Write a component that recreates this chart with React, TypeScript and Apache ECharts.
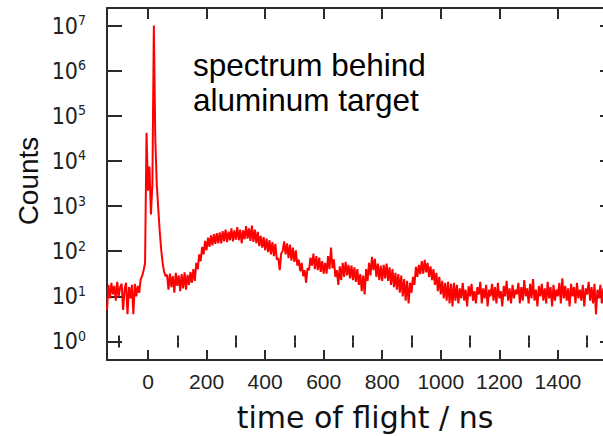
import React, { useEffect, useRef } from "react";
import * as echarts from "echarts";

// Time-of-flight histogram, 5 ns bins, counts per bin
const BIN_NS = 5;

// -140 .. -25 ns : random background before the prompt flash
const baselineStartNs = -140;
const baselineCounts = [5, 18, 9, 20, 11, 17, 8, 21, 10, 16, 19, 5, 14, 20, 4, 16, 9, 18, 4, 19, 10, 17, 12, 24];

// -20 .. 60 ns : prompt gamma flash and the main transmitted peak
const promptStartNs = -20;
const promptCounts = [28, 38, 55, 42000, 2200, 7500, 650, 3000, 1.0e7, 30000, 3000, 900, 280, 110, 55, 35, 28];

// 65 .. 150 ns : valley after the peak
const valleyStartNs = 65;
const valleyCounts = [30, 14, 32, 16, 28, 12, 33, 17, 29, 13, 31, 15, 34, 14, 30, 18, 35, 20];

// 155 .. 240 ns : rising edge of the broad component
const riseStartNs = 155;
const riseCounts = [40, 22, 55, 40, 85, 60, 125, 85, 170, 105, 200, 125, 225, 135, 240, 145, 250, 150];

// 245 .. 380 ns : maximum of the broad component
const humpStartNs = 245;
const humpCounts = [
  260, 150, 280, 165, 300, 160, 270, 175, 320, 165, 290, 180, 340, 175, 300, 150, 290, 185, 360, 190,
  320, 170, 370, 160, 300, 150, 270, 130,
];

// 385 .. 600 ns : decay with resonance dips
const decayStartNs = 385;
const decayCounts = [
  220, 120, 205, 105, 190, 95, 175, 85, 160, 78, 145, 65, 70, 38, 90, 100, 165, 85, 150, 70,
  140, 62, 120, 58, 105, 48, 65, 36, 55, 28, 38, 20, 42, 38, 72, 48, 88, 40, 78, 38,
  72, 35, 60, 32,
];

// 605 .. 760 ns
const midStartNs = 605;
const midCounts = [
  55, 32, 78, 40, 120, 42, 66, 27, 38, 18, 46, 23, 55, 27, 58, 29, 50, 25, 48, 23,
  44, 21, 40, 18, 31, 13, 29, 11, 40, 22, 55, 29,
];

// 765 .. 1050 ns : structures near 780 ns and 940 ns
const bumpsStartNs = 765;
const bumpsCounts = [
  75, 38, 68, 27, 53, 23, 48, 22, 50, 25, 53, 22, 44, 18, 40, 16, 33, 14, 31, 12,
  29, 10, 24, 8, 22, 7, 20, 12, 27, 18, 45, 27, 50, 31, 60, 32, 64, 34, 55, 27,
  46, 23, 40, 18, 33, 13, 27, 11, 22, 9, 20, 8, 21, 7, 19, 6, 20, 8,
];

// 1055 .. 1595 ns : flat tail
const tailStartNs = 1055;
const tailCounts = [
  18, 7, 15, 9, 20, 8, 14, 6, 17, 10,
  19, 8, 13, 7, 16, 11, 21, 7, 15, 9,
  18, 6, 14, 10, 19, 8, 16, 7, 20, 9,
  13, 6, 17, 10, 22, 8, 15, 7, 18, 9,
  14, 11, 20, 7, 16, 8, 23, 10, 15, 7,
  19, 9, 24, 8, 14, 6, 17, 10, 19, 8,
  15, 7, 21, 9, 16, 6, 18, 8, 14, 10,
  20, 7, 25, 9, 17, 8, 15, 6, 19, 10,
  16, 7, 20, 9, 14, 8, 18, 6, 15, 11,
  21, 8, 16, 7, 19, 4, 14, 9, 18, 7,
  15, 10, 20, 8, 17, 7, 16, 9, 14,
];

// Axis ticks
const xMajorTicks = [0, 200, 400, 600, 800, 1000, 1200, 1400];
const xMinorTicks = [-100, 100, 300, 500, 700, 900, 1100, 1300, 1500];
const yDecades = [0, 1, 2, 3, 4, 5, 6, 7];

const X_MIN = -140;
const X_MAX = 1595;
const Y_MIN = -0.41; // log10 of the lower frame edge
const Y_MAX = 7.388; // log10 of the upper frame edge

const segment = (startNs: number, counts: number[]) =>
  counts.map((c, i) => [startNs + i * BIN_NS, Math.log10(c)]);

const AXIS_COLOR = "#2a2a2a";
const tickLine = { color: AXIS_COLOR, width: 2 };
const NARROW = '"Liberation Sans Narrow", "DejaVu Sans Condensed", sans-serif';

export default function App() {
  const ref = useRef<HTMLDivElement>(null);

  useEffect(() => {
    if (!ref.current) return;
    const chart = echarts.init(ref.current, null, { renderer: "svg" });

    const data = [
      ...segment(baselineStartNs, baselineCounts),
      ...segment(promptStartNs, promptCounts),
      ...segment(valleyStartNs, valleyCounts),
      ...segment(riseStartNs, riseCounts),
      ...segment(humpStartNs, humpCounts),
      ...segment(decayStartNs, decayCounts),
      ...segment(midStartNs, midCounts),
      ...segment(bumpsStartNs, bumpsCounts),
      ...segment(tailStartNs, tailCounts),
    ];

    const xBase = (position: "top" | "bottom") => ({
      type: "value" as const,
      position,
      min: X_MIN,
      max: X_MAX,
      splitLine: { show: false },
    });

    chart.setOption({
      animation: false,
      backgroundColor: "#ffffff",
      grid: { left: 107, top: 8, right: 15, bottom: 76 },
      xAxis: [
        {
          ...xBase("bottom"),
          axisLine: { show: true, onZero: false, lineStyle: { color: AXIS_COLOR, width: 2 } },
          axisTick: { show: true, inside: true, length: 10, customValues: xMajorTicks, lineStyle: tickLine },
          axisLabel: {
            show: true,
            customValues: xMajorTicks,
            formatter: (v: number) => String(Math.round(v)),
            margin: 11,
            fontSize: 21,
            fontFamily: '"Liberation Sans", Arial, sans-serif',
            color: "#222",
          },
        },
        {
          ...xBase("bottom"),
          axisLine: { show: false },
          axisTick: { show: true, inside: true, length: 6, customValues: xMinorTicks, lineStyle: tickLine },
          axisLabel: { show: false },
        },
        {
          ...xBase("top"),
          axisLine: { show: true, onZero: false, lineStyle: { color: AXIS_COLOR, width: 2 } },
          axisTick: { show: true, inside: true, length: 11, customValues: xMajorTicks, lineStyle: tickLine },
          axisLabel: { show: false },
        },
        {
          ...xBase("top"),
          axisLine: { show: false },
          axisTick: { show: true, inside: true, length: 6, customValues: xMinorTicks, lineStyle: tickLine },
          axisLabel: { show: false },
        },
      ],
      yAxis: [
        {
          type: "value",
          position: "left",
          min: Y_MIN,
          max: Y_MAX,
          splitLine: { show: false },
          axisLine: { show: true, onZero: false, lineStyle: { color: AXIS_COLOR, width: 2 } },
          axisTick: { show: true, inside: true, length: 15, customValues: yDecades, lineStyle: tickLine },
          axisLabel: {
            show: true,
            customValues: yDecades,
            margin: 21,
            formatter: (v: number) => `{b|10}{s|${Math.round(v)}}`,
            rich: {
              b: { fontSize: 23, fontFamily: NARROW, color: "#222", lineHeight: 25 },
              s: { fontSize: 14, fontFamily: NARROW, color: "#222", lineHeight: 14, verticalAlign: "top" },
            },
          },
        },
        {
          type: "value",
          position: "right",
          min: Y_MIN,
          max: Y_MAX,
          splitLine: { show: false },
          axisLine: { show: true, onZero: false, lineStyle: { color: AXIS_COLOR, width: 2 } },
          axisTick: { show: true, inside: true, length: 15, customValues: yDecades, lineStyle: tickLine },
          axisLabel: { show: false },
        },
      ],
      series: [
        {
          type: "line",
          xAxisIndex: 0,
          yAxisIndex: 0,
          data,
          showSymbol: false,
          clip: true,
          lineStyle: { color: "#ff0000", width: 2 },
          itemStyle: { color: "#ff0000" },
        },
      ],
      graphic: [
        {
          type: "text",
          x: 365,
          y: 417,
          style: {
            text: "time of flight / ns",
            fontSize: 30,
            fontFamily: '"DejaVu Sans", sans-serif',
            fill: "#111",
            align: "center",
            verticalAlign: "middle",
          },
        },
        {
          type: "text",
          x: 28,
          y: 181,
          rotation: Math.PI / 2,
          style: {
            text: "Counts",
            fontSize: 28,
            fontFamily: '"Liberation Sans", Arial, sans-serif',
            fill: "#111",
            align: "center",
            verticalAlign: "middle",
          },
        },
        {
          type: "text",
          x: 193,
          y: 65,
          style: {
            text: "spectrum behind",
            fontSize: 31.5,
            fontFamily: '"Liberation Sans", Arial, sans-serif',
            fill: "#000",
            align: "left",
            verticalAlign: "middle",
          },
        },
        {
          type: "text",
          x: 193,
          y: 100,
          style: {
            text: "aluminum target",
            fontSize: 31.5,
            fontFamily: '"Liberation Sans", Arial, sans-serif',
            fill: "#000",
            align: "left",
            verticalAlign: "middle",
          },
        },
      ],
    });

    return () => chart.dispose();
  }, []);

  return (
    <div
      style={{
        position: "fixed",
        left: 0,
        top: 0,
        width: 603,
        height: 436,
        overflow: "hidden",
        background: "#fff",
      }}
    >
      <div ref={ref} style={{ width: 630, height: 436 }} />
    </div>
  );
}
